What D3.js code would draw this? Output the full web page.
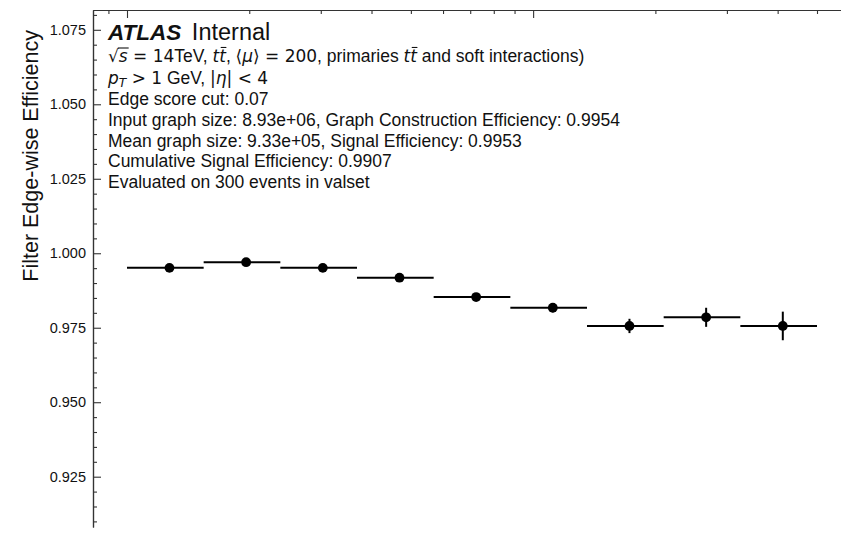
<!DOCTYPE html>
<html>
<head>
<meta charset="utf-8">
<script src="https://cdn.jsdelivr.net/npm/d3@7/dist/d3.min.js"></script>
<style>
  html, body { margin: 0; padding: 0; background: #fff; }
  svg { display: block; }
  text { font-family: "Liberation Sans", Arial, Helvetica, sans-serif; fill: #111; }
</style>
</head>
<body>
<svg id="chart" width="841" height="546"></svg>
<script>
// Filter edge-wise efficiency in log-spaced pT bins (GeV)
const binEdges = [1.0, 1.5444, 2.3853, 3.6840, 5.6899, 8.7879, 13.572, 20.962, 32.375, 50.0];
const efficiency = [0.9951, 0.9970, 0.9951, 0.9918, 0.9853, 0.9817, 0.9756, 0.9785, 0.9756];
const efficiencyErr = [0.0004, 0.0004, 0.0005, 0.0007, 0.0010, 0.0015, 0.0024, 0.0032, 0.0048];
const yMajorTicks = [0.925, 0.950, 0.975, 1.000, 1.025, 1.050, 1.075];
const xMajorTicks = [1, 10];
const xMinorTicks = [0.9, 2, 3, 4, 5, 6, 7, 8, 9, 20, 30, 40, 50, 60, 70, 80, 90];
const infoLines = [
  "Edge score cut: 0.07",
  "Input graph size: 8.93e+06, Graph Construction Efficiency: 0.9954",
  "Mean graph size: 9.33e+05, Signal Efficiency: 0.9953",
  "Cumulative Signal Efficiency: 0.9907",
  "Evaluated on 300 events in valset"
];

const svg = d3.select("#chart");
const frame = { left: 93, top: 10, right: 841, bottom: 527 };

// scales
const x = d3.scaleLog().domain([1, 50]).range([127, 817]);
const y = d3.scaleLinear().domain([0.925, 1.075]).range([476.7, 29.8]);
const xFull = x.copy().domain([x.invert(frame.left), x.invert(frame.right)]).range([frame.left, frame.right]);
const yFull = y.copy().domain([y.invert(frame.bottom), y.invert(frame.top)]).range([frame.bottom, frame.top]);

const [yLo, yHi] = yFull.domain();
const yMinorTicks = d3.range(0.905, 1.085, 0.005)
  .map(v => Math.round(v * 1000) / 1000)
  .filter(v => v >= yLo && v <= yHi && !yMajorTicks.some(m => Math.abs(m - v) < 1e-9));
const [xLo, xHi] = xFull.domain();

// axes (ticks point into the plot)
const axisColor = "#333";
const yMajor = svg.append("g").attr("transform", `translate(${frame.left},0)`)
  .call(d3.axisLeft(yFull).tickValues(yMajorTicks).tickSize(-8).tickSizeOuter(0).tickPadding(7)
        .tickFormat(d3.format(".3f")));
const yMinor = svg.append("g").attr("transform", `translate(${frame.left},0)`)
  .call(d3.axisLeft(yFull).tickValues(yMinorTicks).tickSize(-4).tickSizeOuter(0).tickFormat(""));
const xMajor = svg.append("g").attr("transform", `translate(0,${frame.top})`)
  .call(d3.axisTop(xFull).tickValues(xMajorTicks.filter(v => v >= xLo && v <= xHi)).tickSize(-8).tickSizeOuter(0).tickFormat(""));
const xMinor = svg.append("g").attr("transform", `translate(0,${frame.top})`)
  .call(d3.axisTop(xFull).tickValues(xMinorTicks.filter(v => v >= xLo && v <= xHi)).tickSize(-4).tickSizeOuter(0).tickFormat(""));

[yMajor, yMinor, xMajor, xMinor].forEach(g => {
  g.selectAll("path.domain").attr("stroke", axisColor).attr("stroke-width", 1.2);
  g.selectAll(".tick line").attr("stroke", axisColor).attr("stroke-width", 1.1);
});
yMajor.selectAll(".tick text")
  .style("font-family", '"Liberation Sans", Arial, sans-serif')
  .style("font-size", "14.5px").attr("fill", "#222");

// y-axis title
svg.append("text")
  .attr("transform", "translate(38,30) rotate(-90)")
  .attr("text-anchor", "end")
  .style("font-size", "21.5px")
  .text("Filter Edge-wise Efficiency");

// data: horizontal bin widths, vertical errors, markers
const bins = efficiency.map((v, i) => ({
  lo: binEdges[i], hi: binEdges[i + 1], c: (binEdges[i] + binEdges[i + 1]) / 2,
  v, e: efficiencyErr[i]
}));
const marks = svg.append("g");
marks.selectAll("line.xerr").data(bins).join("line").attr("class", "xerr")
  .attr("x1", d => x(d.lo)).attr("x2", d => x(d.hi))
  .attr("y1", d => y(d.v)).attr("y2", d => y(d.v))
  .attr("stroke", "#000").attr("stroke-width", 2);
marks.selectAll("line.yerr").data(bins).join("line").attr("class", "yerr")
  .attr("x1", d => x(d.c)).attr("x2", d => x(d.c))
  .attr("y1", d => y(d.v - d.e)).attr("y2", d => y(d.v + d.e))
  .attr("stroke", "#000").attr("stroke-width", 2);
marks.selectAll("circle").data(bins).join("circle")
  .attr("cx", d => x(d.c)).attr("cy", d => y(d.v)).attr("r", 4.9)
  .attr("fill", "#000");

// label block
const textX = 108;
const head = svg.append("text").attr("x", textX).attr("y", 40).style("font-size", "22.5px");
head.append("tspan").style("font-weight", "bold").style("font-style", "italic").text("ATLAS");
head.append("tspan").attr("dx", 4).style("font-size", "23.5px").text("\u00a0Internal");

const mathFont = '"DejaVu Sans", sans-serif';
const textFont = '"Liberation Sans", Arial, sans-serif';

function richLine(yPos, size, runs) {
  const t = svg.append("text").attr("x", textX).attr("y", yPos).style("font-size", size + "px");
  let idx = 0;
  const marksAt = [];
  runs.forEach(r => {
    const s = t.append("tspan").text(r.t)
      .style("font-family", r.m ? mathFont : textFont)
      .style("font-style", r.i ? "italic" : "normal");
    if (r.m) s.style("font-size", (size * 0.97) + "px");
    if (r.sub) s.attr("baseline-shift", "-22%").style("font-size", (size * 0.7) + "px");
    if (r.over) marksAt.push({ start: idx, len: r.t.length, kind: r.over });
    idx += r.t.length;
  });
  const node = t.node();
  marksAt.forEach(m => {
    const a = node.getExtentOfChar(m.start);
    const b = node.getExtentOfChar(m.start + m.len - 1);
    if (m.kind === "root") {
      const r0 = node.getExtentOfChar(m.start - 1);
      svg.append("line")
        .attr("x1", r0.x + r0.width - 1).attr("x2", b.x + b.width + 1)
        .attr("y1", yPos - size * 0.80).attr("y2", yPos - size * 0.80)
        .attr("stroke", "#111").attr("stroke-width", 1.1);
    } else {
      svg.append("line")
        .attr("x1", a.x + 1.5).attr("x2", b.x + b.width + 0.5)
        .attr("y1", yPos - size * 0.83).attr("y2", yPos - size * 0.83)
        .attr("stroke", "#111").attr("stroke-width", 1.1);
    }
  });
  return t;
}

const fs = 17.5;
richLine(62, fs, [
  { t: "\u221a", m: true }, { t: "s", m: true, i: true, over: "root" },
  { t: " = 14", m: true }, { t: "TeV, " },
  { t: "t", m: true, i: true }, { t: "t", m: true, i: true, over: "bar" },
  { t: ", " }, { t: "\u27e8", m: true }, { t: "\u03bc", m: true, i: true }, { t: "\u27e9 = 200", m: true },
  { t: ", primaries " },
  { t: "t", m: true, i: true }, { t: "t", m: true, i: true, over: "bar" },
  { t: " and soft interactions)" }
]);
richLine(84, fs, [
  { t: "p", m: true, i: true }, { t: "T", m: true, i: true, sub: true },
  { t: " > 1", m: true }, { t: " GeV, " },
  { t: "|", m: true }, { t: "\u03b7", m: true, i: true }, { t: "| < 4", m: true }
]);

svg.append("g").selectAll("text").data(infoLines).join("text")
  .attr("x", textX).attr("y", (d, i) => 105 + i * 20.8)
  .style("font-size", fs + "px")
  .text(d => d);
</script>
</body>
</html>
